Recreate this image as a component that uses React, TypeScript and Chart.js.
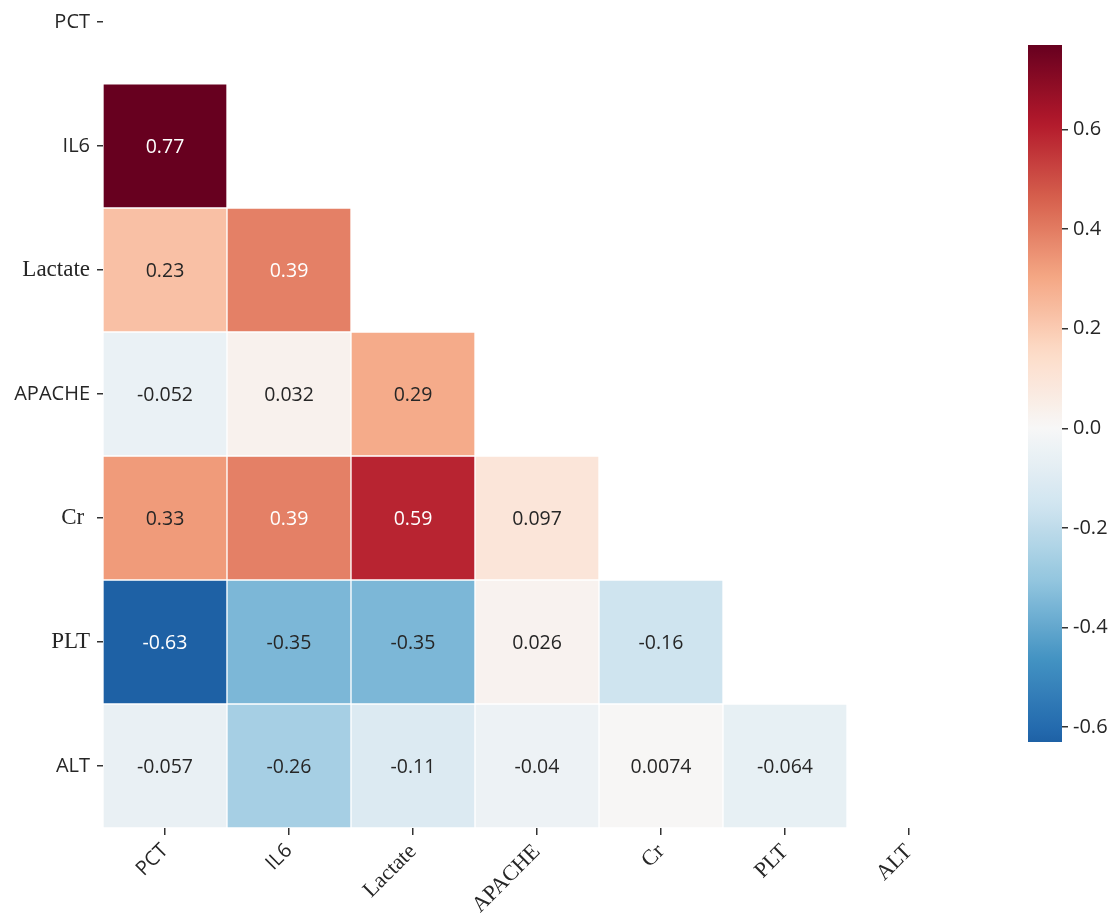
import React, { useEffect, useRef } from "react";
import { Chart, registerables } from "chart.js";
Chart.register(...registerables);

// ---------- data ----------
const ROW_LABELS = ["PCT", "IL6", "Lactate", "APACHE", "Cr ", "PLT", "ALT"];
const COL_LABELS = ["PCT", "IL6", "Lactate", "APACHE", "Cr", "PLT", "ALT"];
const ROW_PCT: number[] = [];
const ROW_IL6 = [0.77];
const ROW_LACTATE = [0.23, 0.39];
const ROW_APACHE = [-0.052, 0.032, 0.29];
const ROW_CR = [0.33, 0.39, 0.59, 0.097];
const ROW_PLT = [-0.63, -0.35, -0.35, 0.026, -0.16];
const ROW_ALT = [-0.057, -0.26, -0.11, -0.04, 0.0074, -0.064];
const ROWS = [ROW_PCT, ROW_IL6, ROW_LACTATE, ROW_APACHE, ROW_CR, ROW_PLT, ROW_ALT];
const COLORBAR_TICKS = [-0.6, -0.4, -0.2, 0.0, 0.2, 0.4, 0.6];

// ---------- styles ----------
const SANS = "'Open Sans', 'Noto Sans', sans-serif";
const SERIF = "'Liberation Serif', 'DejaVu Serif', serif";
const Y_SERIF = [false, false, true, false, true, true, false];
const X_SERIF = [false, false, true, true, true, true, true];
const TEXT_DARK = "#262626";

const RDBU_R = [
  "#053061", "#2166ac", "#4393c3", "#92c5de", "#d1e5f0", "#f7f7f7",
  "#fddbc7", "#f4a582", "#d6604d", "#b2182b", "#67001f",
];

function hexToRgb(h: string) {
  return [parseInt(h.slice(1, 3), 16), parseInt(h.slice(3, 5), 16), parseInt(h.slice(5, 7), 16)];
}
const RDBU_RGB = RDBU_R.map(hexToRgb);

function cmapRgb(t: number) {
  const tt = Math.max(0, Math.min(1, t));
  const s = tt * (RDBU_RGB.length - 1);
  const i = Math.min(Math.floor(s), RDBU_RGB.length - 2);
  const f = s - i;
  const a = RDBU_RGB[i];
  const b = RDBU_RGB[i + 1];
  return [0, 1, 2].map((k) => a[k] + (b[k] - a[k]) * f);
}
const ALL_VALUES = ROWS.flat();
const V_ABS = Math.max(...ALL_VALUES.map((v) => Math.abs(v)));
const V_MIN = Math.min(...ALL_VALUES);
const V_MAX = Math.max(...ALL_VALUES);
const norm = (v: number) => (v + V_ABS) / (2 * V_ABS);
const rgbStr = (c: number[]) => `rgb(${Math.round(c[0])},${Math.round(c[1])},${Math.round(c[2])})`;
const colorFor = (v: number) => rgbStr(cmapRgb(norm(v)));

function luminance(c: number[]) {
  const lin = c.map((x) => {
    const s = x / 255;
    return s <= 0.03928 ? s / 12.92 : Math.pow((s + 0.055) / 1.055, 2.4);
  });
  return 0.2126 * lin[0] + 0.7152 * lin[1] + 0.0722 * lin[2];
}
const textColorFor = (v: number) => (luminance(cmapRgb(norm(v))) > 0.408 ? TEXT_DARK : "#ffffff");
const fmt = (v: number) => String(parseFloat(v.toPrecision(2)));

export default function App() {
  const heatRef = useRef<HTMLCanvasElement | null>(null);
  const cbRef = useRef<HTMLCanvasElement | null>(null);

  useEffect(() => {
    if (!heatRef.current || !cbRef.current) return;

    const datasets = ROWS.map((row, r) => ({
      label: ROW_LABELS[r],
      data: COL_LABELS.map((_, c) => (c < row.length ? [r - 0.5, r + 0.5] : null)),
      backgroundColor: COL_LABELS.map((_, c) => (c < row.length ? colorFor(row[c]) : "rgba(0,0,0,0)")),
      borderColor: "#ffffff",
      borderWidth: 1,
      borderSkipped: false,
      grouped: false,
      barPercentage: 1,
      categoryPercentage: 1,
    }));

    const annotate = {
      id: "annotate",
      afterDatasetsDraw(chart: any) {
        const ctx = chart.ctx;
        const xs = chart.scales.x;
        const ys = chart.scales.y;
        ctx.save();
        ctx.textAlign = "center";
        ctx.textBaseline = "middle";
        ctx.font = `19.5px ${SANS}`;
        ROWS.forEach((row, r) => {
          row.forEach((v, c) => {
            ctx.fillStyle = textColorFor(v);
            ctx.fillText(fmt(v), xs.getPixelForValue(c), ys.getPixelForValue(r) + 1);
          });
        });
        ctx.restore();
      },
    };

    const heat = new Chart(heatRef.current, {
      type: "bar",
      data: { labels: COL_LABELS, datasets: datasets as any },
      options: {
        animation: false,
        responsive: false,
        maintainAspectRatio: false,
        layout: { padding: { left: 0, right: 29, top: 0, bottom: 0 } },
        plugins: { legend: { display: false }, tooltip: { enabled: false } },
        events: [],
        scales: {
          x: {
            type: "category",
            offset: true,
            border: { display: false },
            grid: {
              display: true,
              offset: false,
              drawOnChartArea: false,
              drawTicks: true,
              tickLength: 7,
              tickColor: "#333",
              lineWidth: 1.5,
            },
            ticks: {
              color: TEXT_DARK,
              minRotation: 45,
              maxRotation: 45,
              padding: 4,
              autoSkip: false,
              font: (ctx: any) => ({
                family: X_SERIF[ctx.index] ? SERIF : SANS,
                size: X_SERIF[ctx.index] ? 22 : 20,
              }),
            },
            afterFit: (scale: any) => {
              scale.height = 89;
              scale.paddingLeft = 0;
              scale.paddingRight = 0;
            },
          },
          y: {
            type: "linear",
            reverse: true,
            min: -0.177,
            max: 6.5,
            border: { display: false },
            grid: {
              display: true,
              drawOnChartArea: false,
              drawTicks: true,
              tickLength: 6,
              tickColor: "#333",
              lineWidth: 1.5,
            },
            afterBuildTicks: (scale: any) => {
              scale.ticks = ROW_LABELS.map((_, i) => ({ value: i }));
            },
            ticks: {
              color: TEXT_DARK,
              padding: 7,
              autoSkip: false,
              callback: (value: any) => ROW_LABELS[Math.round(Number(value))],
              font: (ctx: any) => {
                const i = ctx.tick ? Math.round(ctx.tick.value) : ctx.index;
                return { family: Y_SERIF[i] ? SERIF : SANS, size: Y_SERIF[i] ? 23 : 20 };
              },
            },
            afterFit: (scale: any) => {
              scale.width = 103;
              scale.paddingTop = 0;
              scale.paddingBottom = 0;
            },
          },
        },
      },
      plugins: [annotate],
    });

    const cb = new Chart(cbRef.current, {
      type: "bar",
      data: {
        labels: [""],
        datasets: [
          {
            data: [[V_MIN, V_MAX]] as any,
            borderWidth: 0,
            barPercentage: 1,
            categoryPercentage: 1,
            backgroundColor: (ctx: any) => {
              const chart = ctx.chart;
              const ys = chart.scales.y;
              if (!chart.chartArea || !ys) return "#ccc";
              const y0 = ys.getPixelForValue(V_MIN);
              const y1 = ys.getPixelForValue(V_MAX);
              const g = chart.ctx.createLinearGradient(0, y0, 0, y1);
              const n = 60;
              for (let k = 0; k <= n; k++) {
                const v = V_MIN + ((V_MAX - V_MIN) * k) / n;
                g.addColorStop(k / n, colorFor(v));
              }
              return g;
            },
          },
        ],
      },
      options: {
        animation: false,
        responsive: false,
        maintainAspectRatio: false,
        layout: { padding: { left: 28, right: 0, top: 45, bottom: 175 } },
        plugins: { legend: { display: false }, tooltip: { enabled: false } },
        events: [],
        scales: {
          x: { display: false },
          y: {
            type: "linear",
            position: "right",
            min: V_MIN,
            max: V_MAX,
            border: { display: false },
            grid: {
              display: true,
              drawOnChartArea: false,
              drawTicks: true,
              tickLength: 6,
              tickColor: "#333",
              lineWidth: 1.5,
            },
            afterBuildTicks: (scale: any) => {
              scale.ticks = COLORBAR_TICKS.map((v) => ({ value: v }));
            },
            ticks: {
              color: TEXT_DARK,
              padding: 5,
              font: { family: SANS, size: 20 },
              callback: (value: any) => Number(value).toFixed(1),
            },
            afterFit: (scale: any) => {
              scale.width = 55;
              scale.paddingTop = 0;
              scale.paddingBottom = 0;
            },
          },
        },
      },
    });

    return () => {
      heat.destroy();
      cb.destroy();
    };
  }, []);

  return (
    <div style={{ position: "fixed", left: 0, top: 0, width: 1117, height: 917, background: "#ffffff" }}>
      <canvas ref={heatRef} width={1000} height={917} style={{ position: "absolute", left: 0, top: 0 }} />
      <canvas ref={cbRef} width={117} height={917} style={{ position: "absolute", left: 1000, top: 0 }} />
    </div>
  );
}
